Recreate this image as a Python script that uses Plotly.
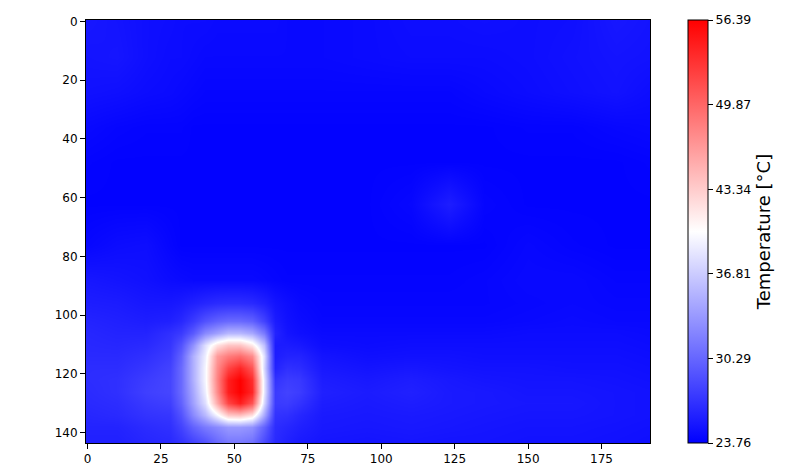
import plotly.graph_objects as go

# thermal frame readings (deg C) at selected pixel columns / rows
x_cols = [0, 10, 20, 28, 32, 36, 40, 44, 48, 52, 56, 60, 64, 68, 72, 80, 95, 110, 123, 135, 150, 165, 180, 191]
y_rows = [0, 12, 24, 36, 48, 62, 76, 88, 96, 102, 106, 110, 114, 118, 122, 126, 130, 134, 138, 143]

temps = [
    [25.2, 25.0, 24.7, 24.6, 24.5, 24.5, 24.5, 24.4, 24.4, 24.4, 24.4, 24.4, 24.4, 24.3, 24.3, 24.3, 24.4, 24.6, 24.6, 24.7, 24.6, 24.7, 25.2, 25.0],
    [25.0, 25.1, 24.7, 24.5, 24.5, 24.4, 24.3, 24.3, 24.3, 24.3, 24.3, 24.3, 24.3, 24.3, 24.3, 24.3, 24.4, 24.5, 24.5, 24.5, 24.6, 24.8, 25.0, 24.9],
    [24.8, 24.7, 24.5, 24.4, 24.3, 24.2, 24.1, 24.1, 24.1, 24.1, 24.1, 24.1, 24.1, 24.1, 24.1, 24.1, 24.1, 24.1, 24.1, 24.3, 24.5, 24.7, 24.9, 24.6],
    [24.3, 24.1, 24.0, 24.0, 24.0, 23.9, 23.9, 23.9, 23.9, 23.9, 23.9, 23.9, 23.9, 23.9, 23.9, 23.9, 23.9, 23.9, 23.9, 23.9, 24.0, 24.0, 24.2, 24.3],
    [24.0, 23.9, 23.9, 23.9, 23.9, 23.9, 23.9, 23.9, 23.9, 23.9, 23.9, 23.9, 23.9, 23.9, 23.9, 23.9, 23.9, 23.9, 23.9, 23.9, 23.9, 23.9, 23.9, 24.0],
    [23.9, 23.9, 23.9, 23.9, 23.9, 23.9, 23.9, 23.9, 23.9, 23.9, 23.9, 23.9, 23.9, 23.9, 23.9, 23.9, 23.9, 24.2, 25.6, 24.1, 23.9, 23.9, 23.9, 23.9],
    [24.2, 24.5, 24.6, 24.1, 23.9, 23.9, 23.9, 23.9, 23.9, 23.9, 23.9, 23.9, 23.9, 23.9, 23.9, 23.9, 23.9, 23.9, 23.9, 23.9, 24.2, 24.0, 23.9, 23.9],
    [25.2, 25.0, 24.8, 24.5, 24.4, 24.3, 24.3, 24.3, 24.3, 24.3, 24.3, 24.2, 24.1, 24.0, 24.0, 24.0, 24.0, 24.0, 24.0, 24.1, 24.3, 24.3, 24.1, 24.1],
    [25.6, 25.5, 25.2, 25.2, 25.4, 25.8, 26.2, 26.5, 26.6, 26.6, 26.4, 25.8, 25.0, 24.6, 24.3, 24.1, 24.1, 24.1, 24.1, 24.1, 24.2, 24.3, 24.2, 24.2],
    [26.0, 25.8, 25.6, 25.8, 26.3, 27.5, 29.0, 30.0, 30.5, 30.5, 30.0, 28.0, 25.5, 24.8, 24.5, 24.2, 24.2, 24.2, 24.2, 24.2, 24.3, 24.4, 24.3, 24.3],
    [26.2, 26.0, 26.0, 26.8, 27.5, 29.5, 32.5, 34.0, 35.5, 35.5, 34.5, 31.5, 26.0, 25.0, 24.7, 24.4, 24.4, 24.4, 24.4, 24.4, 24.5, 24.5, 24.5, 24.4],
    [26.3, 26.2, 26.4, 27.2, 29.0, 33.0, 38.0, 42.0, 43.8, 43.8, 41.5, 36.0, 25.5, 25.5, 25.3, 24.6, 24.5, 24.6, 24.6, 24.6, 24.6, 24.6, 24.6, 24.5],
    [26.4, 26.4, 26.8, 27.6, 30.0, 35.0, 39.0, 46.5, 48.5, 49.5, 47.5, 38.0, 25.6, 26.0, 26.0, 25.0, 24.7, 24.8, 24.8, 24.7, 24.7, 24.7, 24.7, 24.6],
    [26.6, 26.6, 27.2, 28.0, 30.5, 35.0, 39.5, 47.5, 52.0, 54.0, 51.0, 37.5, 26.0, 26.8, 26.6, 25.3, 25.0, 25.2, 25.0, 24.9, 24.9, 24.8, 24.8, 24.7],
    [26.6, 26.8, 27.6, 28.2, 30.5, 35.0, 39.5, 48.0, 54.5, 56.4, 53.5, 38.5, 27.0, 27.6, 27.4, 25.6, 25.3, 25.6, 25.3, 25.1, 25.0, 25.0, 24.9, 24.8],
    [26.5, 26.8, 27.8, 28.2, 30.5, 34.5, 39.0, 47.5, 54.5, 56.4, 54.0, 38.5, 27.5, 28.0, 27.6, 25.8, 25.5, 25.8, 25.4, 25.3, 25.1, 25.1, 25.0, 24.9],
    [26.4, 26.6, 27.4, 27.8, 30.0, 34.0, 38.0, 45.5, 52.0, 54.5, 51.0, 37.5, 27.5, 27.6, 27.0, 25.6, 25.4, 25.6, 25.4, 25.3, 25.2, 25.2, 25.0, 24.9],
    [26.2, 26.4, 27.0, 27.2, 29.0, 32.5, 35.5, 39.5, 43.5, 44.0, 42.0, 34.5, 27.0, 26.8, 26.2, 25.4, 25.3, 25.4, 25.3, 25.2, 25.1, 25.1, 25.0, 24.9],
    [26.0, 26.0, 26.5, 26.8, 28.0, 30.0, 31.5, 32.5, 33.5, 33.5, 33.0, 30.0, 26.6, 26.2, 25.8, 25.3, 25.2, 25.3, 25.2, 25.1, 25.0, 25.0, 24.9, 24.8],
    [25.8, 25.8, 26.2, 26.4, 27.0, 28.0, 29.0, 30.5, 31.5, 31.5, 31.0, 28.5, 26.4, 25.8, 25.4, 25.1, 25.0, 25.1, 25.0, 25.0, 24.9, 24.9, 24.8, 24.7],
]

t_min = 23.76
t_max = 56.39
cbar_ticks = [23.76, 30.29, 36.81, 43.34, 49.87, 56.39]
x_ticks = [0, 25, 50, 75, 100, 125, 150, 175]
y_ticks = [0, 20, 40, 60, 80, 100, 120, 140]

bwr = [[0.0, "rgb(0,0,255)"], [0.5, "rgb(255,255,255)"], [1.0, "rgb(255,0,0)"]]

fig = go.Figure(go.Heatmap(
    x=x_cols,
    y=y_rows,
    z=temps,
    zmin=t_min,
    zmax=t_max,
    zsmooth="best",
    colorscale=bwr,
    colorbar=dict(
        title=dict(text="Temperature [°C]", side="right",
                   font=dict(size=18, color="black")),
        tickvals=cbar_ticks,
        ticktext=["%.2f" % v for v in cbar_ticks],
        ticks="outside",
        ticklen=5,
        tickcolor="black",
        tickfont=dict(size=12.5, color="black"),
        thickness=20,
        len=1,
        y=0.5,
        ypad=0,
        x=1.067,
        xanchor="left",
        xpad=0,
        outlinewidth=1,
        outlinecolor="black",
    ),
))

# page body adds 8px, so left/top margins are 8px smaller
fig.update_layout(
    width=804,
    height=468,
    margin=dict(l=78, r=162, t=12, b=33, autoexpand=False),
    paper_bgcolor="white",
    plot_bgcolor="white",
    font=dict(family="DejaVu Sans", size=12, color="black"),
    xaxis=dict(
        range=[-0.5, 191.5],
        tickvals=x_ticks,
        ticks="outside",
        ticklen=5,
        tickcolor="black",
        showgrid=False,
        zeroline=False,
        showline=True,
        linecolor="black",
        linewidth=1,
        mirror=True,
    ),
    yaxis=dict(
        range=[143.5, -0.5],
        tickvals=y_ticks,
        ticks="outside",
        ticklen=5,
        tickcolor="black",
        showgrid=False,
        zeroline=False,
        showline=True,
        linecolor="black",
        linewidth=1,
        mirror=True,
    ),
)

fig.write_html("out.html")
